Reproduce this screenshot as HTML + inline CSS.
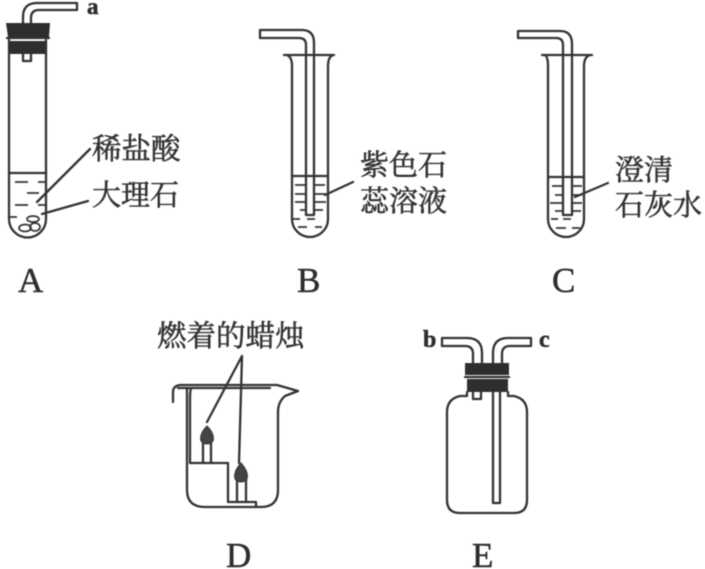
<!DOCTYPE html>
<html><head><meta charset="utf-8"><style>
html,body{margin:0;padding:0;background:#fff}
svg{display:block;filter:blur(.4px)}
.c{font-family:"Liberation Serif","Noto Serif CJK SC",serif;fill:#333;stroke:#333;stroke-width:.55}
.l{font-family:"Liberation Serif",serif;fill:#2e2e2e;stroke:#2e2e2e;stroke-width:.5}
.s{fill:none;stroke:#333;stroke-width:2.3;stroke-linecap:round;stroke-linejoin:round}
.d{fill:none;stroke:#333;stroke-width:1.8}
.k{fill:#2e2e2e;stroke:none}
</style></head><body>
<svg width="705" height="569" viewBox="0 0 705 569" xmlns="http://www.w3.org/2000/svg">
<!-- A -->
<path class="s" d="M23 23V17Q23 3 37 3H77V10H39Q31 10 31 18V23"/>
<path class="k" d="M6 23H50L49 37H8Z"/>
<path class="k" d="M9 41H46V54H9Z"/>
<path class="s" d="M7 38H49"/>
<path class="s" d="M23 54V61H31V54"/>
<path class="s" d="M9 40V219A18.500 18.500 0 0 0 46 219V40"/>
<path class="s" d="M9 173H46"/>
<path class="d" d="M15 182H28M38 182H45M27 193H39M15 205H28M38 205H45M10 217H17"/>
<path class="s" d="M90 149L37 202M88 201L42 214"/>
<g class="s" style="stroke-width:1.700">
<ellipse cx="33" cy="219" rx="6" ry="3"/><ellipse cx="25" cy="228" rx="6" ry="3.500"/><ellipse cx="35" cy="227" rx="5" ry="4"/>
</g>
<text class="l" x="87" y="14" font-size="23" font-weight="bold">a</text>
<text class="c" x="92" y="159" font-size="29.500">稀盐酸</text>
<text class="c" x="92" y="205" font-size="29">大理石</text>
<text class="l" x="18" y="292" font-size="35">A</text>
<!-- B -->
<path class="s" d="M284 55H334M287 55Q292 57 292 66V219A18 18 0 0 0 328 219V66Q328 57 333 55"/>
<path class="s" d="M306 215V45Q306 38 299 38H260V30H302Q314 30 314 43V215Z"/>
<path class="s" d="M292 176H328"/>
<path class="d" d="M295 185H305M315 185H325M295 194H305M315 194H326M295 202H305M315 202H326M300 210H305M315 210H323M293 219H300M307 219H315M298 227H307M315 227H322"/>
<path class="s" d="M353 182L325 195"/>
<text class="c" x="360" y="175" font-size="29">紫色石</text>
<text class="c" x="360" y="211" font-size="29">蕊溶液</text>
<text class="l" x="297" y="292" font-size="35">B</text>
<!-- C -->
<path class="s" d="M542 55H592M545 55Q548 57 548 66V219A18 18 0 0 0 584 219V66Q584 57 590 55"/>
<path class="s" d="M563 215V45Q563 38 556 38H518V31H560Q572 31 572 44V215Z"/>
<path class="s" d="M548 177H584"/>
<path class="d" d="M552 186H562M573 186H582M555 195H562M573 195H582M550 203H562M573 203H582M555 211H562M573 211H581M551 219H558M563 219H571M556 228H566M572 228H580"/>
<path class="s" d="M608 183L575 197"/>
<text class="c" x="615" y="180" font-size="29">澄清</text>
<text class="c" x="615" y="215" font-size="29">石灰水</text>
<text class="l" x="552" y="292" font-size="35">C</text>
<!-- D -->
<text class="c" x="157" y="346" font-size="29.500">燃着的蜡烛</text>
<path class="s" d="M173 402V392Q173 386 180 385H277L298 391L285 396Q278 402 278 412V490Q278 507 261 507H205Q187 507 187 490V388"/>
<path class="s" d="M178 388H270M191 388Q190 392 190 398V463"/>
<path class="s" d="M190 463H228V502H256V507"/>
<path class="s" d="M242 356L207 422M242 356L239 463"/>
<path class="s" d="M203 463V442M211 463V442M237 502V480M246 502V480"/>
<path d="M207 426Q215 434 213 441Q211 444 207 444Q203 444 201 441Q199 434 207 426Z" fill="#444" stroke="#333"/>
<path d="M241 463Q249 472 247 479Q245 482 241 482Q237 482 235 479Q233 472 241 463Z" fill="#444" stroke="#333"/>
<text class="l" x="226" y="567" font-size="35">D</text>
<!-- E -->
<path class="s" d="M473 363V354Q473 346 465 346H442V338H467Q482 338 482 353V363"/>
<path class="s" d="M493 363V353Q493 338 508 338H531V346H510Q502 346 502 354V363"/>
<path class="k" d="M465 363H509V375H465Z"/>
<path class="k" d="M467 379H508V392H467Z"/>
<path class="s" d="M465 377H509"/>
<path class="s" d="M473 392V399H481V392"/>
<path class="s" d="M493 392V503H500V392"/>
<path class="s" d="M467 392V396H460Q447 399 447 412V500Q447 513 460 513H514Q527 513 527 500V412Q527 399 514 396H508V392"/>
<text class="l" x="423" y="347" font-size="24" font-weight="bold">b</text>
<text class="l" x="539" y="347" font-size="24" font-weight="bold">c</text>
<text class="l" x="472" y="567" font-size="35">E</text>
</svg>
</body></html>
